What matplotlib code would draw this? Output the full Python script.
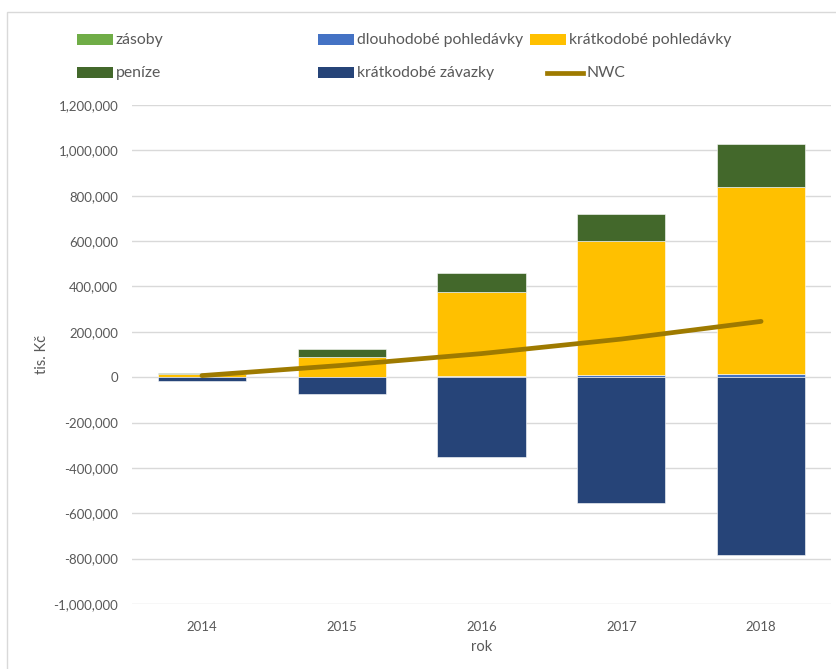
import matplotlib
matplotlib.use("Agg")
import matplotlib.pyplot as plt
from matplotlib.patches import Rectangle
from matplotlib.lines import Line2D
from matplotlib.ticker import FuncFormatter, MultipleLocator
import numpy as np

plt.rcParams['font.family'] = ['Lato', 'DejaVu Sans']

years = ['2014', '2015', '2016', '2017', '2018']
zasoby = [1500, 2000, 2500, 2500, 3000]
dlouhodobe_pohledavky = [0, 0, 1000, 5000, 12000]
kratkodobe_pohledavky = [13000, 86000, 372000, 593000, 825000]
penize = [6000, 36000, 85000, 119000, 190000]
kratkodobe_zavazky = [-15000, -75000, -354000, -553000, -785000]
nwc = [7000, 52000, 104000, 168000, 246000]

colors = {'zásoby': '#70AD47', 'dlouhodobé pohledávky': '#4472C4',
          'krátkodobé pohledávky': '#FFC000', 'peníze': '#43682B',
          'krátkodobé závazky': '#264478', 'NWC': '#9E7A00'}

W, H = 836, 669
fig = plt.figure(figsize=(W / 100, H / 100), dpi=100)
ax = fig.add_axes([132 / W, 1 - 604 / H, 699 / W, 499 / H])

x = np.arange(len(years))
bw = 0.63
bottom = np.zeros(len(years))
for name, vals in [('zásoby', zasoby), ('dlouhodobé pohledávky', dlouhodobe_pohledavky),
                   ('krátkodobé pohledávky', kratkodobe_pohledavky), ('peníze', penize)]:
    v = np.array(vals, dtype=float)
    ax.bar(x, v, bw, bottom=bottom, color=colors[name], edgecolor='white',
           linewidth=0.4, zorder=3)
    bottom += v
ax.bar(x, kratkodobe_zavazky, bw, color=colors['krátkodobé závazky'],
       edgecolor='white', linewidth=0.4, zorder=3)
ax.plot(x, nwc, color=colors['NWC'], linewidth=3.4, solid_capstyle='round', zorder=4)

ax.set_xlim(-0.5, len(years) - 0.5)
ax.set_ylim(-1000000, 1200000)
ax.yaxis.set_major_locator(MultipleLocator(200000))
ax.yaxis.set_major_formatter(FuncFormatter(lambda v, p: f"{int(v):,}"))
ax.set_xticks(x)
ax.set_xticklabels(years)
ax.grid(axis='y', color='#D9D9D9', linewidth=1.0, zorder=0)
ax.set_axisbelow(True)
for s in ax.spines.values():
    s.set_visible(False)
ax.tick_params(axis='both', length=0, colors='#595959', labelsize=9.5)
ax.tick_params(axis='y', pad=10)
ax.tick_params(axis='x', pad=12)
ax.set_xlabel('rok', color='#595959', fontsize=10.5, labelpad=5)
ax.set_ylabel('tis. Kč', color='#595959', fontsize=10.5, labelpad=3)

# chart border
fig.patches.append(Rectangle((7 / W, -0.01), 1.02, 1 - 12 / H + 0.01,
                             transform=fig.transFigure, fill=False,
                             edgecolor='#D9D9D9', linewidth=1.0))

# legend (manual layout like Excel)
entries = [
    ('zásoby', 77, 40, 'patch'),
    ('dlouhodobé pohledávky', 318, 40, 'patch'),
    ('krátkodobé pohledávky', 530, 40, 'patch'),
    ('peníze', 77, 73, 'patch'),
    ('krátkodobé závazky', 318, 73, 'patch'),
    ('NWC', 547, 73, 'line'),
]
for name, px, py, kind in entries:
    if kind == 'patch':
        fig.patches.append(Rectangle((px / W, 1 - (py + 5) / H), 36 / W, 11 / H,
                                     transform=fig.transFigure,
                                     facecolor=colors[name], edgecolor='none'))
    else:
        fig.lines.append(Line2D([px / W, (px + 36) / W], [1 - py / H, 1 - py / H],
                                transform=fig.transFigure, color=colors[name],
                                linewidth=3.4))
    fig.text((px + 39) / W, 1 - py / H, name, fontsize=11.3, color='#595959',
             va='center', ha='left')

fig.savefig('out.png', dpi=100)
